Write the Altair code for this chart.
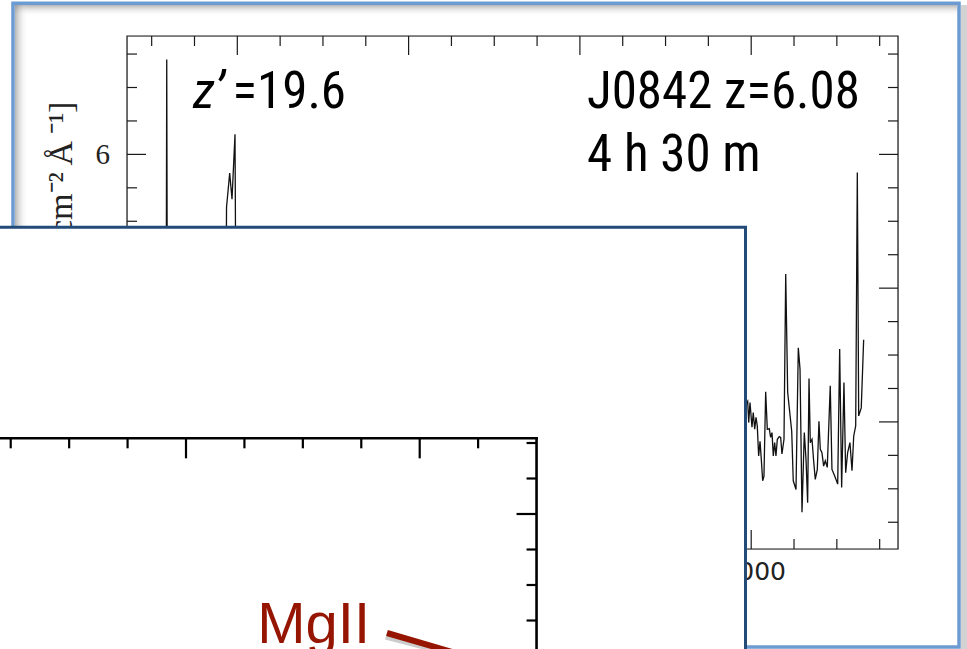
import altair as alt
import pandas as pd

# ---------------- data ----------------
# visible parts of the spectrum (wavelength in Angstrom, flux in 1e-17 units)
seg_a_wl = [8316.5, 8317.6, 8318.7]
seg_a_flux = [0.8, 7.42, 0.9]
seg_b_wl = [8386.2, 8387.4, 8391.1, 8393.8, 8397.3, 8399.0]
seg_b_flux = [2.0, 5.21, 5.72, 5.33, 6.30, 2.0]
seg_c_wl = [8990.4, 8995.9, 8997.1, 8998.6, 9000.9, 9002.4, 9004.1, 9005.6, 9007.1, 9008.7,
            9010.3, 9011.8, 9013.4, 9014.9, 9016.9, 9018.8, 9021.1, 9022.7, 9024.3, 9025.8,
            9027.4, 9028.9, 9030.5, 9032.8, 9034.4, 9035.9, 9038.3, 9040.3, 9042.6, 9047.3,
            9049.1, 9052.3, 9055.0, 9057.0, 9059.3, 9062.0, 9064.0, 9065.9, 9067.5, 9069.0,
            9071.0, 9072.9, 9074.8, 9077.2, 9079.1, 9080.7, 9082.6, 9084.6, 9086.5, 9088.8,
            9092.3, 9094.3, 9097.5, 9101.0, 9103.3, 9105.6, 9108.3, 9110.3, 9112.6, 9115.3,
            9117.7, 9119.7, 9122.0, 9123.9, 9125.5, 9128.5, 9131.3]
seg_c_flux = [2.19, 2.31, 1.99, 2.29, 1.92, 2.14, 1.89, 2.07, 1.94, 1.49,
              1.71, 1.44, 1.12, 1.19, 2.45, 1.89, 1.90, 1.77, 1.84, 1.49,
              1.69, 1.49, 1.74, 1.78, 1.77, 1.52, 1.74, 4.21, 2.44, 1.86,
              1.12, 0.99, 3.11, 2.79, 0.65, 1.84, 1.44, 0.79, 2.65, 1.69,
              1.74, 1.42, 1.14, 1.29, 2.01, 1.59, 1.54, 1.34, 1.42, 1.32,
              2.54, 1.29, 1.19, 1.07, 3.09, 1.02, 2.59, 1.24, 1.54, 1.69,
              1.27, 1.79, 1.94, 5.73, 2.09, 2.21, 3.23]

x_major = [8400, 8600, 8800, 9000]
x_minor = [8300, 8350, 8450, 8500, 8550, 8650, 8700, 8750, 8850, 8900, 8950, 9050, 9100, 9150]
y_major = [2, 4, 6]
y_minor = [0.5, 1, 1.5, 2.5, 3, 3.5, 4.5, 5, 5.5, 6.5, 7, 7.5]
X_DOM = [8271.2, 9171.4]
Y_DOM = [0.10, 7.77]
y_title = "fλ [10⁻¹⁷ erg s⁻¹ cm⁻²\u2009Å\u2009⁻¹]"

ann_text = ["=19.6", "J0842 z=6.08", "4 h 30 m"]
ann_wl = [8394.5, 8808.3, 8808.3]
ann_flux = [6.70, 6.70, 5.746]

# lower (inset) panel
lower_x_major = [19400, 19600]
lower_x_minor = [19250, 19300, 19350, 19450, 19500, 19550, 19650]
lower_y_major = [0.2, 0.4]
lower_y_minor = [0.25, 0.3, 0.35, 0.45, 0.5]
LOWER_TOP = 0.5066
LOWER_RIGHT = 19700
mg_label = "MgII"
mg_pos = [19461.0, 0.2183]
arrow_from = [19572.0, 0.2324]
arrow_to = [19668.7, 0.1859]

# ---------------- scales ----------------
W, H = 771, 513
main_x = alt.Scale(domain=X_DOM, nice=False, zero=False, padding=0)
main_y = alt.Scale(domain=Y_DOM, nice=False, zero=False, padding=0)
low_x = alt.Scale(domain=[19400, 19600], range=[59, 292.7], nice=False, zero=False, padding=0)
low_y = alt.Scale(domain=[0.2, 0.4], range=[620, 478], nice=False, zero=False, padding=0)


def X(f, s=main_x):
    return alt.X(f"{f}:Q", scale=s, axis=None)


def Y(f, s=main_y):
    return alt.Y(f"{f}:Q", scale=s, axis=None)


one = pd.DataFrame({"k": [0]})
INK = "#1a1a1a"
RED = "#961500"

layers = []

# slide decoration: inner shadow, border, right shadow strip
top_grad = alt.LinearGradient(gradient="linear", x1=0, x2=0, y1=0, y2=1,
                              stops=[alt.GradientStop(color="rgba(120,120,120,0.55)", offset=0),
                                     alt.GradientStop(color="rgba(255,255,255,0)", offset=1)])
left_grad = alt.LinearGradient(gradient="linear", x1=0, x2=1, y1=0, y2=0,
                               stops=[alt.GradientStop(color="rgba(120,120,120,0.55)", offset=0),
                                      alt.GradientStop(color="rgba(255,255,255,0)", offset=1)])
layers.append(alt.Chart(one).mark_rect(fill=top_grad).encode(
    x=alt.value(-112), x2=alt.value(830), y=alt.value(-31), y2=alt.value(-20)))
layers.append(alt.Chart(one).mark_rect(fill=left_grad).encode(
    x=alt.value(-112), x2=alt.value(-99), y=alt.value(-31), y2=alt.value(613)))
layers.append(alt.Chart(one).mark_rect(fill="#d3d3d3").encode(
    x=alt.value(834), x2=alt.value(841), y=alt.value(-31), y2=alt.value(614)))
layers.append(alt.Chart(one).mark_rect(filled=False, stroke="#6b9bd1", strokeWidth=3.5).encode(
    x=alt.value(-114), x2=alt.value(832), y=alt.value(-32.8), y2=alt.value(611)))

# main frame
frame = pd.DataFrame({"x0": [X_DOM[0]], "x1": [X_DOM[1]], "y0": [Y_DOM[0]], "y1": [Y_DOM[1]]})
layers.append(alt.Chart(frame).mark_rect(filled=False, stroke=INK, strokeWidth=1.2).encode(
    x=X("x0"), x2="x1:Q", y=Y("y0"), y2="y1:Q"))

# main ticks (inward, on all four sides)
for vals, size in [(x_major, 19), (x_minor, 10)]:
    d = pd.DataFrame({"v": vals, "top": Y_DOM[1], "bot": Y_DOM[0]})
    layers.append(alt.Chart(d).mark_tick(orient="vertical", size=size, thickness=1.2, color=INK,
                                         opacity=1, yOffset=size / 2).encode(x=X("v"), y=Y("top")))
    layers.append(alt.Chart(d).mark_tick(orient="vertical", size=size, thickness=1.2, color=INK,
                                         opacity=1, yOffset=-size / 2).encode(x=X("v"), y=Y("bot")))
for vals, size in [(y_major, 19), (y_minor, 10)]:
    d = pd.DataFrame({"v": vals, "left": X_DOM[0], "right": X_DOM[1]})
    layers.append(alt.Chart(d).mark_tick(orient="horizontal", size=size, thickness=1.2, color=INK,
                                         opacity=1, xOffset=size / 2).encode(x=X("left"), y=Y("v")))
    layers.append(alt.Chart(d).mark_tick(orient="horizontal", size=size, thickness=1.2, color=INK,
                                         opacity=1, xOffset=-size / 2).encode(x=X("right"), y=Y("v")))

# tick labels
xl = pd.DataFrame({"v": x_major, "b": Y_DOM[0], "t": [str(v) for v in x_major]})
layers.append(alt.Chart(xl).mark_text(font="DejaVu Sans", fontSize=25, color="#222",
                                      baseline="middle", dy=23, dx=3).encode(x=X("v"), y=Y("b"), text="t:N"))
yl = pd.DataFrame({"v": y_major, "l": X_DOM[0], "t": [str(v) for v in y_major]})
layers.append(alt.Chart(yl).mark_text(font="Liberation Serif", fontSize=29, color="#222",
                                      align="right", baseline="middle", dx=-17, dy=1).encode(
    x=X("l"), y=Y("v"), text="t:N"))
yt = pd.DataFrame({"y": [6.79], "t": [y_title]})
layers.append(alt.Chart(yt).mark_text(font="Liberation Serif", fontSize=34, color="#222", angle=270,
                                      align="right", baseline="alphabetic").encode(
    x=alt.value(-55), y=Y("y"), text="t:N"))

# spectrum
spec = pd.DataFrame({
    "wl": seg_a_wl + seg_b_wl + seg_c_wl,
    "flux": seg_a_flux + seg_b_flux + seg_c_flux,
    "seg": ["a"] * len(seg_a_wl) + ["b"] * len(seg_b_wl) + ["c"] * len(seg_c_wl),
})
layers.append(alt.Chart(spec).mark_line(color="#111", strokeWidth=1.3).encode(
    x=X("wl"), y=Y("flux"), detail="seg:N"))

# annotations
ANN_FONT = "Roboto Condensed, Liberation Sans Narrow, Liberation Sans, sans-serif"
zd = pd.DataFrame({"x": [8348.3], "y": [6.70], "t": ["z’"]})
layers.append(alt.Chart(zd).mark_text(font=ANN_FONT, fontSize=51, fontStyle="italic", color="black",
                                      align="left", baseline="alphabetic").encode(
    x=X("x"), y=Y("y"), text="t:N"))
ad = pd.DataFrame({"x": ann_wl, "y": ann_flux, "t": ann_text})
layers.append(alt.Chart(ad).mark_text(font=ANN_FONT, fontSize=51, color="black",
                                      align="left", baseline="alphabetic").encode(
    x=X("x"), y=Y("y"), text="t:N"))

# overlapping white panel
layers.append(alt.Chart(one).mark_rect(fill="white", stroke="#234b78", strokeWidth=3).encode(
    x=alt.value(-140), x2=alt.value(618.5), y=alt.value(191.2), y2=alt.value(640)))

# inset frame and ticks
lf = pd.DataFrame({"x0": [19050], "x1": [LOWER_RIGHT], "yt": [LOWER_TOP], "yb": [0.1]})
layers.append(alt.Chart(lf).mark_rule(color="black", strokeWidth=2.6, strokeCap="square").encode(
    x=X("x0", low_x), x2="x1:Q", y=Y("yt", low_y)))
layers.append(alt.Chart(lf).mark_rule(color="black", strokeWidth=2.6, strokeCap="square").encode(
    x=X("x1", low_x), y=Y("yt", low_y), y2="yb:Q"))
for vals, size in [(lower_x_major, 20), (lower_x_minor, 10)]:
    d = pd.DataFrame({"v": vals, "top": LOWER_TOP})
    layers.append(alt.Chart(d).mark_tick(orient="vertical", size=size, thickness=2.2, color="black",
                                         opacity=1, yOffset=size / 2).encode(
        x=X("v", low_x), y=Y("top", low_y)))
for vals, size in [(lower_y_major, 20), (lower_y_minor, 10)]:
    d = pd.DataFrame({"v": vals, "right": LOWER_RIGHT})
    layers.append(alt.Chart(d).mark_tick(orient="horizontal", size=size, thickness=2.2, color="black",
                                         opacity=1, xOffset=-size / 2).encode(
        x=X("right", low_x), y=Y("v", low_y)))

# MgII label and arrow
md = pd.DataFrame({"x": [mg_pos[0]], "y": [mg_pos[1]], "t": [mg_label]})
layers.append(alt.Chart(md).mark_text(font="Liberation Sans", fontSize=58, color=RED,
                                      align="left", baseline="alphabetic").encode(
    x=X("x", low_x), y=Y("y", low_y), text="t:N"))
ar = pd.DataFrame({"x0": [arrow_from[0]], "y0": [arrow_from[1]],
                   "x1": [arrow_to[0]], "y1": [arrow_to[1]]})
layers.append(alt.Chart(ar).mark_rule(color="#555", opacity=0.3, strokeWidth=7, yOffset=3, xOffset=-1).encode(
    x=X("x0", low_x), y=Y("y0", low_y), x2="x1:Q", y2="y1:Q"))
layers.append(alt.Chart(ar).mark_rule(color=RED, strokeWidth=6).encode(
    x=X("x0", low_x), y=Y("y0", low_y), x2="x1:Q", y2="y1:Q"))

chart = alt.layer(*layers).resolve_scale(x="independent", y="independent").properties(
    width=W, height=H,
    padding={"left": 127, "top": 36, "right": 69, "bottom": 100},
    autosize=alt.AutoSizeParams(type="none"),
).configure_view(strokeWidth=0).configure(background="white")

chart.save("out.html", embed_options={"renderer": "svg", "actions": False})
